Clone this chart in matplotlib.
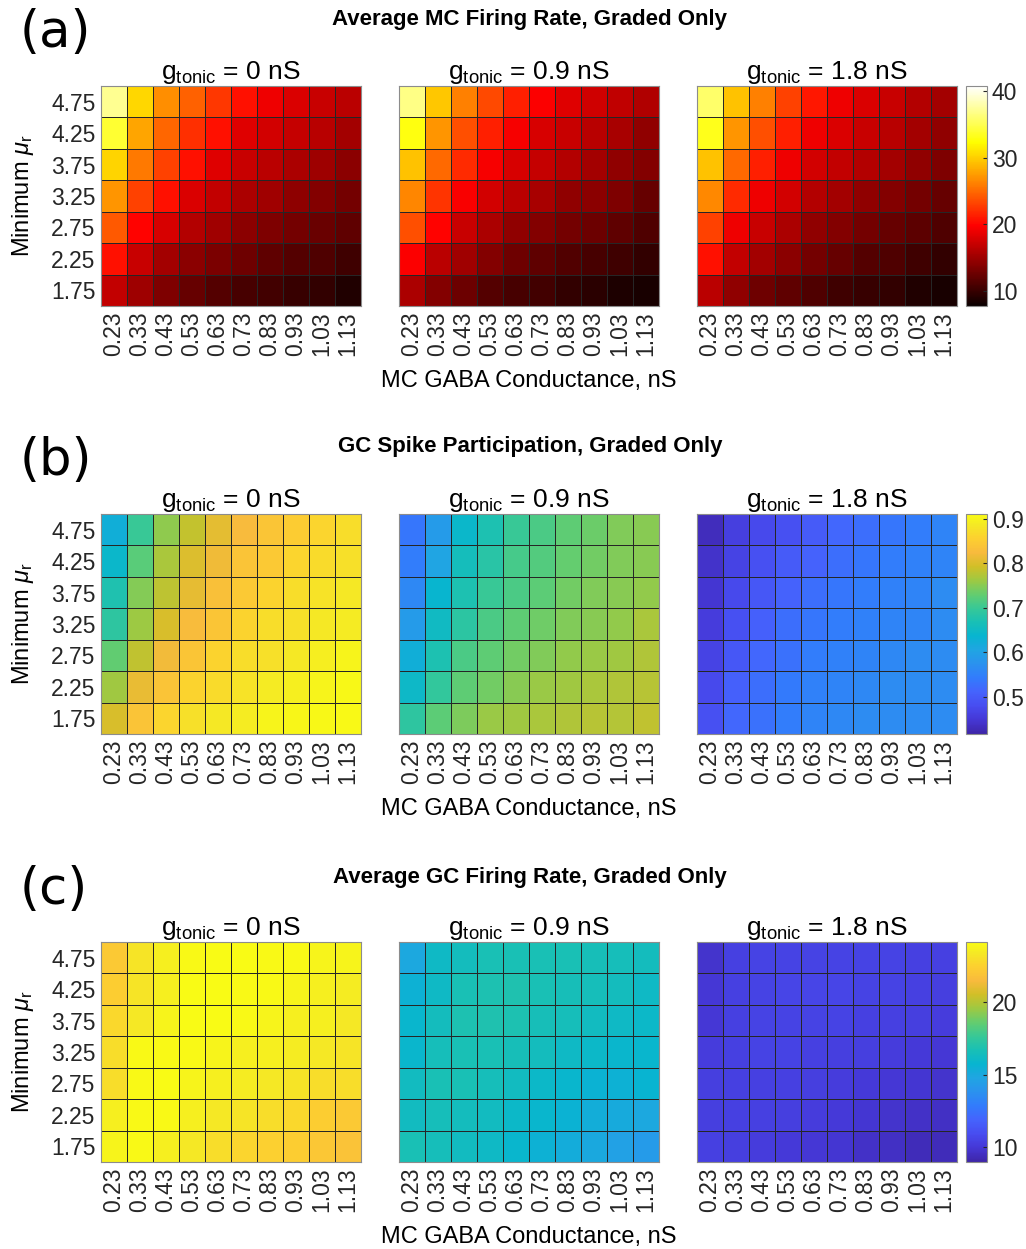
import numpy as np
import matplotlib.pyplot as plt
from matplotlib.colors import LinearSegmentedColormap

plt.rcParams['font.family'] = ['Liberation Sans', 'DejaVu Sans']
plt.rcParams['mathtext.fontset'] = 'custom'
plt.rcParams['mathtext.rm'] = 'Liberation Sans'
plt.rcParams['mathtext.it'] = 'Liberation Sans:italic'

# Ejes de los mapas
gaba = ['0.23', '0.33', '0.43', '0.53', '0.63', '0.73', '0.83', '0.93', '1.03', '1.13']
mu_r = ['4.75', '4.25', '3.75', '3.25', '2.75', '2.25', '1.75']
g_tonic = ['0', '0.9', '1.8']

# (a) Average MC firing rate (filas de 4.75 a 1.75)
mc_rate_g0 = [
    [37.1, 30.4, 26.8, 24.6, 22.5, 20.6, 19.0, 18.0, 17.1, 16.4],
    [34.0, 27.9, 24.8, 22.1, 20.6, 18.3, 17.6, 17.0, 16.3, 15.3],
    [30.3, 25.8, 23.0, 20.6, 18.3, 17.1, 16.4, 15.7, 15.0, 14.1],
    [27.1, 23.0, 20.6, 18.0, 16.8, 15.7, 15.1, 14.2, 13.7, 13.0],
    [24.2, 19.9, 17.9, 16.0, 15.1, 14.1, 13.4, 13.0, 12.4, 11.9],
    [20.6, 17.1, 15.3, 14.1, 13.3, 12.7, 11.9, 11.4, 11.1, 10.4],
    [16.8, 15.0, 13.4, 12.3, 11.4, 10.7, 10.5, 10.0, 9.7, 8.8]]
mc_rate_g09 = [
    [36.7, 29.6, 26.1, 23.4, 21.4, 19.7, 18.3, 17.4, 16.7, 15.9],
    [32.9, 27.1, 23.7, 21.4, 19.4, 17.9, 17.1, 16.3, 15.5, 14.4],
    [29.3, 24.9, 21.8, 19.4, 17.9, 17.0, 16.0, 15.3, 14.4, 13.7],
    [26.4, 22.4, 19.5, 17.6, 16.4, 15.5, 14.4, 14.1, 13.4, 12.3],
    [23.7, 19.9, 17.1, 15.7, 14.4, 13.7, 13.0, 12.6, 11.9, 11.1],
    [19.7, 16.4, 15.1, 13.7, 12.7, 11.9, 11.2, 10.7, 10.4, 9.7],
    [15.7, 13.7, 12.6, 11.4, 10.7, 10.5, 9.7, 9.3, 8.7, 8.4]]
mc_rate_g18 = [
    [35.8, 29.3, 26.1, 23.0, 20.9, 19.0, 18.0, 17.1, 16.0, 15.3],
    [33.2, 27.1, 23.7, 21.4, 19.0, 18.0, 17.1, 16.3, 15.3, 14.4],
    [29.3, 24.9, 21.4, 19.0, 17.6, 16.8, 16.0, 15.3, 14.4, 13.4],
    [26.5, 21.8, 19.0, 17.6, 16.0, 15.3, 14.4, 13.7, 13.0, 12.3],
    [23.0, 19.0, 17.1, 15.7, 14.4, 13.7, 13.0, 12.3, 11.8, 11.1],
    [20.6, 16.8, 15.3, 14.1, 13.0, 12.3, 11.4, 11.1, 10.4, 9.7],
    [16.4, 14.4, 12.7, 11.9, 11.1, 10.4, 10.0, 9.7, 8.8, 8.4]]

# (b) GC spike participation
gc_part_g0 = [
    [0.624, 0.700, 0.753, 0.785, 0.807, 0.824, 0.840, 0.851, 0.862, 0.871],
    [0.644, 0.723, 0.768, 0.802, 0.817, 0.839, 0.847, 0.861, 0.870, 0.876],
    [0.674, 0.748, 0.780, 0.810, 0.832, 0.846, 0.860, 0.872, 0.879, 0.885],
    [0.690, 0.762, 0.797, 0.826, 0.840, 0.860, 0.871, 0.876, 0.884, 0.889],
    [0.728, 0.782, 0.820, 0.840, 0.860, 0.871, 0.876, 0.885, 0.892, 0.900],
    [0.763, 0.812, 0.838, 0.860, 0.870, 0.880, 0.888, 0.894, 0.900, 0.906],
    [0.797, 0.839, 0.861, 0.875, 0.884, 0.891, 0.900, 0.904, 0.906, 0.908]]
gc_part_g09 = [
    [0.535, 0.590, 0.643, 0.673, 0.700, 0.713, 0.727, 0.735, 0.745, 0.750],
    [0.545, 0.604, 0.660, 0.684, 0.708, 0.718, 0.730, 0.738, 0.745, 0.750],
    [0.560, 0.638, 0.673, 0.700, 0.713, 0.725, 0.738, 0.745, 0.750, 0.756],
    [0.590, 0.653, 0.687, 0.713, 0.726, 0.736, 0.745, 0.750, 0.756, 0.768],
    [0.624, 0.673, 0.713, 0.727, 0.738, 0.745, 0.756, 0.760, 0.763, 0.773],
    [0.648, 0.693, 0.727, 0.738, 0.750, 0.760, 0.763, 0.768, 0.773, 0.777],
    [0.689, 0.725, 0.743, 0.760, 0.763, 0.768, 0.773, 0.777, 0.775, 0.782]]
gc_part_g18 = [
    [0.431, 0.460, 0.475, 0.485, 0.500, 0.515, 0.525, 0.535, 0.545, 0.555],
    [0.440, 0.466, 0.485, 0.500, 0.510, 0.525, 0.535, 0.545, 0.550, 0.555],
    [0.446, 0.475, 0.495, 0.510, 0.525, 0.535, 0.545, 0.550, 0.555, 0.565],
    [0.456, 0.485, 0.505, 0.525, 0.535, 0.545, 0.550, 0.555, 0.557, 0.565],
    [0.466, 0.495, 0.515, 0.530, 0.545, 0.550, 0.555, 0.560, 0.565, 0.565],
    [0.475, 0.505, 0.525, 0.540, 0.550, 0.555, 0.560, 0.565, 0.565, 0.565],
    [0.485, 0.515, 0.530, 0.545, 0.555, 0.560, 0.565, 0.565, 0.565, 0.565]]

# (c) Average GC firing rate
gc_rate_g0 = [
    [22.1, 23.2, 23.6, 24.0, 24.1, 24.1, 24.0, 24.0, 23.8, 23.8],
    [22.3, 23.2, 23.6, 24.1, 24.1, 24.0, 24.0, 23.8, 23.6, 23.5],
    [22.7, 23.3, 23.8, 24.1, 24.1, 24.0, 23.8, 23.6, 23.6, 23.3],
    [22.9, 24.0, 24.0, 24.0, 23.8, 23.6, 23.6, 23.5, 23.3, 23.2],
    [22.9, 24.0, 24.1, 23.8, 23.6, 23.5, 23.3, 23.2, 22.9, 22.9],
    [23.6, 24.0, 24.0, 23.6, 23.3, 23.2, 22.9, 22.7, 22.3, 22.1],
    [23.8, 24.0, 23.6, 23.3, 22.9, 22.6, 22.4, 22.3, 22.0, 21.8]]
gc_rate_g09 = [
    [14.9, 16.1, 16.4, 16.7, 16.7, 16.7, 16.7, 16.6, 16.5, 16.4],
    [15.5, 16.1, 16.7, 16.8, 16.9, 16.7, 16.6, 16.5, 16.4, 16.1],
    [15.8, 16.4, 16.8, 16.9, 16.8, 16.6, 16.5, 16.3, 16.1, 16.0],
    [15.9, 16.5, 16.7, 16.7, 16.6, 16.4, 16.1, 16.0, 15.9, 15.8],
    [16.3, 16.7, 16.7, 16.5, 16.3, 16.0, 15.8, 15.6, 15.5, 15.7],
    [16.3, 16.5, 16.4, 16.3, 16.0, 15.8, 15.6, 15.3, 15.1, 14.9],
    [16.7, 16.5, 16.3, 16.1, 15.8, 15.5, 15.2, 15.0, 14.6, 14.3]]
gc_rate_g18 = [
    [9.8, 10.4, 10.5, 10.5, 10.5, 10.5, 10.5, 10.5, 10.4, 10.4],
    [10.0, 10.4, 10.5, 10.6, 10.6, 10.6, 10.5, 10.5, 10.4, 10.3],
    [10.0, 10.4, 10.5, 10.5, 10.5, 10.5, 10.4, 10.4, 10.3, 10.2],
    [10.2, 10.4, 10.5, 10.5, 10.4, 10.3, 10.3, 10.2, 10.1, 10.0],
    [10.3, 10.4, 10.4, 10.4, 10.3, 10.2, 10.1, 10.0, 9.9, 9.8],
    [10.3, 10.4, 10.4, 10.3, 10.2, 10.1, 9.9, 9.8, 9.7, 9.6],
    [10.4, 10.3, 10.2, 10.1, 10.0, 9.9, 9.7, 9.6, 9.4, 9.4]]

# Mapa de color parula (MATLAB), puntos de control
parula_pts = [
    (0.2422, 0.1504, 0.6603), (0.2706, 0.2147, 0.8364), (0.2813, 0.3006, 0.9414),
    (0.2699, 0.3892, 0.9906), (0.1963, 0.4847, 0.9892), (0.1687, 0.5703, 0.9359),
    (0.1248, 0.6459, 0.8883), (0.0297, 0.7082, 0.8163), (0.0964, 0.7500, 0.7120),
    (0.2161, 0.7843, 0.5923), (0.3909, 0.8029, 0.4354), (0.6174, 0.7876, 0.2612),
    (0.8203, 0.7498, 0.1535), (0.9728, 0.7298, 0.2394), (0.9892, 0.8136, 0.1885),
    (0.9597, 0.9135, 0.1423), (0.9769, 0.9839, 0.0805)]
pos = [0, 4, 8, 12, 16, 20, 24, 28, 32, 36, 40, 44, 48, 52, 56, 60, 63]
parula = LinearSegmentedColormap.from_list('parula', [(p/63, c) for p, c in zip(pos, parula_pts)])

W, H = 1026, 1249
fig = plt.figure(figsize=(W/100, H/100), dpi=100)
lefts = [101, 399, 697]


def draw_row(maps, cmap, vmin, vmax, ticks, top, title, letter, ytitle, yletter):
    bottom = 1 - (top + 220)/H
    for k, data in enumerate(maps):
        ax = fig.add_axes([lefts[k]/W, bottom, 260/W, 220/H])
        mesh = ax.pcolormesh(np.arange(11), np.arange(8), np.array(data), cmap=cmap,
                             vmin=vmin, vmax=vmax, edgecolors='#262626', linewidth=0.7)
        ax.set_xlim(0, 10); ax.set_ylim(7, 0)
        ax.set_xticks(np.arange(10) + 0.5, gaba, rotation=90)
        if k == 0:
            ax.set_yticks(np.arange(7) + 0.5, mu_r)
            ax.set_ylabel(r'Minimum $\mu_\mathregular{r}$', fontsize=17, labelpad=11)
        else:
            ax.set_yticks([])
        if k == 1:
            ax.set_xlabel('MC GABA Conductance, nS', fontsize=17, labelpad=10)
        ax.tick_params(length=0, labelsize=16.5, pad=4, colors='#262626')
        for s in ax.spines.values():
            s.set_color('#8c8c8c')
        ax.set_title(r'$\mathregular{g_{tonic}}$ = %s nS' % g_tonic[k], fontsize=19, pad=4)
    cax = fig.add_axes([966/W, bottom, 21/W, 220/H])
    cb = fig.colorbar(mesh, cax=cax, ticks=ticks)
    cb.outline.set_edgecolor('#8c8c8c')
    cax.tick_params(direction='in', length=3, labelsize=16.5, colors='#262626')
    fig.text(530/W, 1 - ytitle/H, title, ha='center', va='center', fontsize=16, fontweight='bold')
    fig.text(20/W, 1 - yletter/H, letter, ha='left', va='center', fontsize=37, family='DejaVu Sans')


draw_row([mc_rate_g0, mc_rate_g09, mc_rate_g18], 'hot', 7.7, 40.8, [10, 20, 30, 40], 86,
         'Average MC Firing Rate, Graded Only', '(a)', 20, 33)
draw_row([gc_part_g0, gc_part_g09, gc_part_g18], parula, 0.416, 0.911, [0.5, 0.6, 0.7, 0.8, 0.9], 514,
         'GC Spike Participation, Graded Only', '(b)', 447, 461)
draw_row([gc_rate_g0, gc_rate_g09, gc_rate_g18], parula, 9.0, 24.1, [10, 15, 20], 942,
         'Average GC Firing Rate, Graded Only', '(c)', 877, 890)

fig.savefig('out.png', dpi=100)
